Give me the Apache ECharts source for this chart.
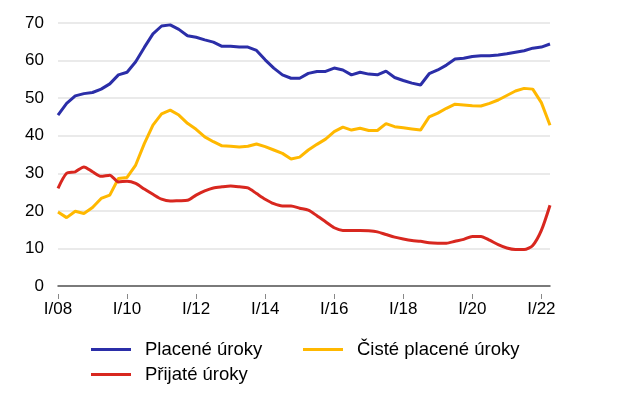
<!DOCTYPE html>
<html>
<head>
<meta charset="utf-8">
<script src="https://cdn.jsdelivr.net/npm/echarts@6/dist/echarts.min.js"></script>
<style>html,body{margin:0;padding:0;background:#fff}#c{width:620px;height:410px}</style>
</head>
<body>
<div id="c"></div>
<script>
var categories = [
 "I/08","II/08","III/08","IV/08","I/09","II/09","III/09","IV/09",
 "I/10","II/10","III/10","IV/10","I/11","II/11","III/11","IV/11",
 "I/12","II/12","III/12","IV/12","I/13","II/13","III/13","IV/13",
 "I/14","II/14","III/14","IV/14","I/15","II/15","III/15","IV/15",
 "I/16","II/16","III/16","IV/16","I/17","II/17","III/17","IV/17",
 "I/18","II/18","III/18","IV/18","I/19","II/19","III/19","IV/19",
 "I/20","II/20","III/20","IV/20","I/21","II/21","III/21","IV/21",
 "I/22","II/22"
];
var placene = [45.5,48.6,50.6,51.2,51.5,52.4,53.8,56.2,56.9,59.7,
 63.5,67.1,69.2,69.5,68.3,66.6,66.2,65.5,64.9,63.8,
 63.8,63.6,63.6,62.7,60.2,58.0,56.2,55.3,55.3,56.6,
 57.1,57.1,58.0,57.5,56.2,56.9,56.4,56.2,57.2,55.5,
 54.7,54.0,53.5,56.5,57.5,58.8,60.4,60.6,61.1,61.3,
 61.3,61.5,61.8,62.2,62.6,63.3,63.6,64.4];
var ciste = [19.7,18.2,19.9,19.3,20.9,23.3,24.2,28.6,28.9,32.2,
 37.9,42.8,45.8,46.8,45.5,43.3,41.7,39.7,38.4,37.3,
 37.2,37.0,37.2,37.8,37.1,36.2,35.3,33.8,34.3,36.2,
 37.7,39.1,41.1,42.3,41.5,42.0,41.4,41.4,43.2,42.4,
 42.1,41.8,41.5,45.0,46.0,47.3,48.4,48.2,48.0,47.9,
 48.6,49.5,50.7,51.9,52.6,52.4,48.8,42.8];
var prijate = [26.0,30.0,30.4,31.7,30.4,29.2,29.5,27.7,27.9,27.3,
 25.8,24.4,23.1,22.6,22.7,22.8,24.2,25.3,26.1,26.4,
 26.6,26.4,26.1,24.6,23.1,21.9,21.3,21.3,20.7,20.2,
 18.7,17.1,15.5,14.8,14.8,14.8,14.7,14.4,13.7,13.0,
 12.5,12.1,11.9,11.5,11.4,11.4,11.9,12.4,13.2,13.2,
 12.2,11.0,10.1,9.7,9.7,10.8,14.8,21.5];
var seriesNames = ["Placené úroky","Čisté placené úroky","Přijaté úroky"];
var colors = ["#2B2EA8","#FFB800","#D8271F"];

var font = "'Liberation Sans', Arial, sans-serif";
var chart = echarts.init(document.getElementById('c'), null, {renderer:'canvas'});
function legendAt(name, left, top){
  return {
    data:[name], left:left, top:top, orient:'horizontal',
    itemWidth:40, itemHeight:3, icon:'rect', padding:0,
    textStyle:{fontFamily:font, fontSize:18.5, color:'#000', padding:[0,0,0,9]}
  };
}
chart.setOption({
  animation:false,
  color:colors,
  grid:{left:58, right:70, top:23, bottom:124},
  legend:[
    legendAt(seriesNames[0], 91, 340),
    legendAt(seriesNames[1], 303, 340),
    legendAt(seriesNames[2], 91, 365)
  ],
  xAxis:{
    type:'category', data:categories, boundaryGap:false,
    axisLine:{lineStyle:{color:'#555', width:1.5}},
    axisTick:{show:true, interval:7, length:13, lineStyle:{color:'#888', width:1, type:[0,8,5,100]}},
    axisLabel:{interval:7, margin:15, fontFamily:font, fontSize:17, color:'#000'},
    splitLine:{show:false}
  },
  yAxis:{
    type:'value', min:0, max:70, interval:10,
    axisLine:{show:false}, axisTick:{show:false},
    axisLabel:{margin:14, fontFamily:font, fontSize:17, color:'#000'},
    splitLine:{lineStyle:{color:'#e3e3e3', width:1.5}}
  },
  series:[
    {name:seriesNames[0], type:'line', data:placene, symbol:'none', lineStyle:{width:3, color:colors[0]}},
    {name:seriesNames[1], type:'line', data:ciste, symbol:'none', lineStyle:{width:3, color:colors[1]}},
    {name:seriesNames[2], type:'line', data:prijate, symbol:'none', smooth:0.25, lineStyle:{width:3, color:colors[2]}}
  ]
});
</script>
</body>
</html>
